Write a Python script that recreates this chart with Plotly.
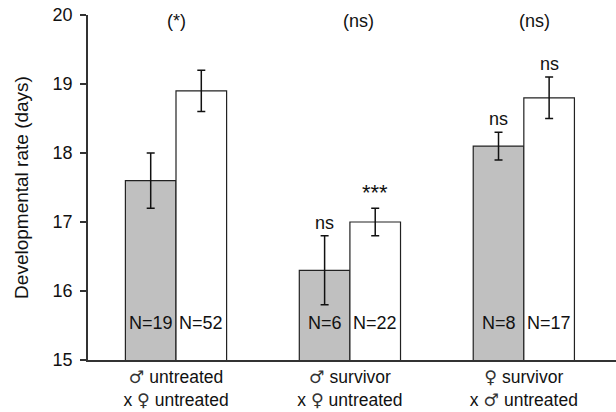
import plotly.graph_objects as go

SYM_STYLE = "font-family:DejaVu Sans ExtraLight, DejaVu Sans;color:#333333"
MALE = f"<span style='{SYM_STYLE}'>\u2642</span>"
FEMALE = f"<span style='{SYM_STYLE}'>\u2640</span>"
groups = [f"{MALE} untreated<br>x {FEMALE} untreated",
          f"{MALE} survivor<br>x {FEMALE} untreated",
          f"{FEMALE} survivor<br>x {MALE} untreated"]
gray_mean = [17.6, 16.3, 18.1]
gray_err = [0.4, 0.5, 0.2]
white_mean = [18.9, 17.0, 18.8]
white_err = [0.3, 0.2, 0.3]
n_gray = [19, 6, 8]
n_white = [52, 22, 17]
sig_gray = ["", "ns", "ns"]
sig_white = ["", "***", "ns"]
group_tests = ["(*)", "(ns)", "(ns)"]

FONT = "Liberation Sans, Arial, Helvetica, sans-serif"
xs = list(range(len(groups)))
bargap = 0.418
half = (1 - bargap) / 4  # offset of each bar centre from group centre

fig = go.Figure()
fig.add_trace(go.Bar(
    x=xs, y=gray_mean, base=0,
    marker=dict(color="#c0c0c0", line=dict(color="#222222", width=1.2)),
    error_y=dict(type="data", array=gray_err, color="#111111", thickness=1.5, width=4),
    showlegend=False, hoverinfo="skip"))
fig.add_trace(go.Bar(
    x=xs, y=white_mean, base=0,
    marker=dict(color="#ffffff", line=dict(color="#222222", width=1.2)),
    error_y=dict(type="data", array=white_err, color="#111111", thickness=1.5, width=4),
    showlegend=False, hoverinfo="skip"))

def sig_size(t):
    return 22 if "*" in t else 18

ann = []
for i in xs:
    ann.append(dict(x=i - half, y=15.54, text=f"N={n_gray[i]}", showarrow=False,
                    xref="x", yref="y", font=dict(size=18)))
    ann.append(dict(x=i + half, y=15.54, text=f"N={n_white[i]}", showarrow=False,
                    xref="x", yref="y", font=dict(size=18)))
    if sig_gray[i]:
        ann.append(dict(x=i - half, y=gray_mean[i] + gray_err[i], text=sig_gray[i],
                        showarrow=False, yanchor="bottom", yshift=1,
                        font=dict(size=sig_size(sig_gray[i]))))
    if sig_white[i]:
        ann.append(dict(x=i + half, y=white_mean[i] + white_err[i], text=sig_white[i],
                        showarrow=False, yanchor="bottom", yshift=1,
                        font=dict(size=sig_size(sig_white[i]))))
group_label_x = [0.0, 1.05, 2.06]
for i in xs:
    ann.append(dict(x=group_label_x[i], y=19.92, text=group_tests[i], showarrow=False,
                    font=dict(size=18)))

fig.update_layout(
    width=616, height=412,
    margin=dict(l=88, r=0, t=15, b=52),
    paper_bgcolor="white", plot_bgcolor="white",
    font=dict(family=FONT, size=18, color="#111111"),
    barmode="group", bargap=bargap, bargroupgap=0,
    annotations=ann,
    xaxis=dict(range=[-0.506, 2.53], tickvals=xs, ticktext=groups,
               showline=True, linecolor="#333333", linewidth=1.5,
               ticks="", showgrid=False, zeroline=False, automargin=False,
               tickfont=dict(size=17.5)),
    yaxis=dict(range=[15, 20], dtick=1, tick0=15,
               showline=True, linecolor="#333333", linewidth=1.5,
               ticks="outside", ticklen=6, tickwidth=1.5, tickcolor="#333333",
               ticklabelstandoff=4,
               showgrid=False, zeroline=False, automargin=False,
               tickfont=dict(size=18),
               title=dict(text="Developmental rate (days)", font=dict(size=19), standoff=19)),
)

fig.write_html("out.html", config={"displayModeBar": False},
               post_script="document.body.style.margin='0';document.body.style.overflow='hidden';")
